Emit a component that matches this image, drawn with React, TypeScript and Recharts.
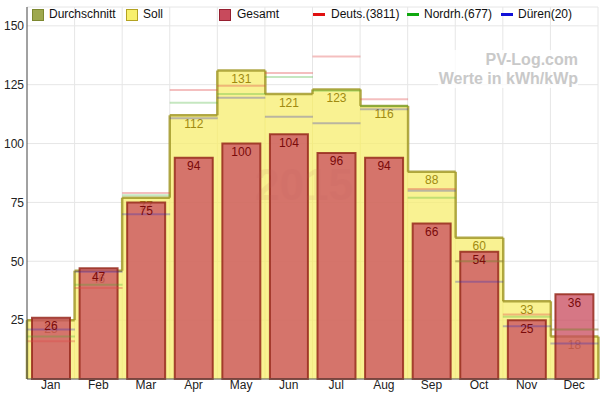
import { ComposedChart, Bar, XAxis, YAxis, CartesianGrid, LabelList } from 'recharts'

const months = ['Jan', 'Feb', 'Mar', 'Apr', 'May', 'Jun', 'Jul', 'Aug', 'Sep', 'Oct', 'Nov', 'Dec']
const gesamt = [26, 47, 75, 94, 100, 104, 96, 94, 66, 54, 25, 36]
const soll = [25, 46, 77, 112, 131, 121, 123, 116, 88, 60, 33, 18]
const durchschnitt: (number | null)[] = [null, null, null, null, null, null, null, null, null, null, null, null]
const deuts = [16, 38.7, 79, 122.8, 124.5, 130, 137, 118.8, 80.7, 50, 27.4, 21]
const nordrh = [18, 40, 78, 117.3, 121, 128.3, 122.4, 116, 77, 50, 26.4, 21]
const dueren = [21, 45.5, 70, 110.8, 119.5, 111.4, 108.6, 114.6, 80, 41.3, 22.4, 15.1]
const yTicks = [25, 50, 75, 100, 125, 150]

const data = months.map((m, i) => ({
  month: m,
  gesamt: gesamt[i],
  soll: soll[i],
  durchschnitt: durchschnitt[i],
  deuts: deuts[i],
  nordrh: nordrh[i],
  dueren: dueren[i],
}))

const FONT = '"Liberation Sans", Arial, sans-serif'
const SOLL_STROKE = '#a39a2a'

// horizontal segment across the whole month, at the bar's value
const segment = (color: string, w: number, op: number) => (props: any) => {
  const { x, y, width } = props
  if (!Number.isFinite(y) || !Number.isFinite(x)) return <g />
  return <line x1={x} x2={x + width} y1={y} y2={y} stroke={color} strokeWidth={w} strokeOpacity={op} />
}

// Soll drawn as a step area: fill, top edge, and the riser up from the lower neighbour
const sollStep = (props: any) => {
  const { x, y, width, height, index } = props
  if (!Number.isFinite(y)) return <g />
  const base = y + height
  const unit = height / soll[index]
  const prev = index > 0 ? soll[index - 1] : 0
  const next = index < soll.length - 1 ? soll[index + 1] : 0
  const yPrev = base - prev * unit
  const yNext = base - next * unit
  return (
    <g>
      <rect x={x} y={y} width={width} height={height} fill="#f7ee6e" fillOpacity={0.75} />
      <line x1={x} x2={x + width} y1={y} y2={y} stroke={SOLL_STROKE} strokeOpacity={0.85} strokeWidth={2.5} />
      {yPrev > y && <line x1={x} x2={x} y1={y} y2={yPrev} stroke={SOLL_STROKE} strokeOpacity={0.85} strokeWidth={2.5} />}
      {yNext > y && <line x1={x + width} x2={x + width} y1={y} y2={yNext} stroke={SOLL_STROKE} strokeOpacity={0.85} strokeWidth={2.5} />}
    </g>
  )
}

const legendBoxes = [
  { label: 'Durchschnitt', fill: '#9ea84e', border: '#7d8830', x: 32, tx: 49 },
  { label: 'Soll', fill: '#f8f06c', border: '#b3a222', x: 126, tx: 143 },
  { label: 'Gesamt', fill: '#c84a5c', border: '#961f30', x: 219, tx: 237 },
]
const legendLines = [
  { label: 'Deuts.(3811)', color: '#e01010', x: 313, tx: 331 },
  { label: 'Nordrh.(677)', color: '#10a810', x: 407, tx: 424 },
  { label: 'Düren(20)', color: '#1010d8', x: 501, tx: 518 },
]

export default function App() {
  return (
    <div style={{ position: 'fixed', left: 0, top: 0, width: 612, height: 396, background: '#fff', fontFamily: FONT }}>
      <ComposedChart
        width={612}
        height={396}
        data={data}
        margin={{ top: 7, right: 14, bottom: 0, left: 0 }}
        barCategoryGap={0}
        barGap={0}
      >
        <CartesianGrid
          xAxisId="main"
          stroke="#e6e6e6"
          verticalCoordinatesGenerator={({ offset }: any) =>
            months.map((_, i) => offset.left + ((i + 1) * offset.width) / 12)
          }
        />
        <XAxis
          xAxisId="main"
          dataKey="month"
          height={17}
          tickSize={0}
          tickMargin={1}
          interval={0}
          axisLine={{ stroke: '#555' }}
          tick={{ fontSize: 12, fill: '#222', fontFamily: FONT }}
        />
        <XAxis xAxisId="soll" dataKey="month" orientation="top" height={0} hide />
        <XAxis xAxisId="durch" dataKey="month" orientation="top" height={0} hide />
        <XAxis xAxisId="deuts" dataKey="month" orientation="top" height={0} hide />
        <XAxis xAxisId="nordrh" dataKey="month" orientation="top" height={0} hide />
        <XAxis xAxisId="dueren" dataKey="month" orientation="top" height={0} hide />
        <YAxis
          width={27}
          domain={[0, 158]}
          ticks={yTicks}
          tickSize={0}
          tickMargin={3}
          axisLine={{ stroke: '#444' }}
          tick={{ fontSize: 12, fill: '#222', fontFamily: FONT }}
        />

        <Bar xAxisId="soll" dataKey="soll" fill="#f7ee6e" shape={sollStep} isAnimationActive={false} zIndex={300}>
          <LabelList dataKey="soll" position="insideTop" offset={4} fill="#a08a10" fontSize={12} fontFamily={FONT} zIndex={301} />
        </Bar>
        <Bar xAxisId="main" dataKey="gesamt" barSize={38} fill="#c94c5e" fillOpacity={0.76} stroke="#962a1c" strokeOpacity={0.85} strokeWidth={2} isAnimationActive={false} zIndex={302}>
          <LabelList dataKey="gesamt" position="insideTop" offset={4} fill="#7a0a0a" fontSize={12} fontFamily={FONT} />
        </Bar>
        <Bar xAxisId="durch" dataKey="durchschnitt" fill="#7d8830" shape={segment('#6e7530', 2.5, 0.5)} isAnimationActive={false} zIndex={303} />
        <Bar xAxisId="deuts" dataKey="deuts" fill="#e04040" shape={segment('#e04848', 2, 0.35)} isAnimationActive={false} zIndex={303} />
        <Bar xAxisId="nordrh" dataKey="nordrh" fill="#40b040" shape={segment('#40b030', 2, 0.3)} isAnimationActive={false} zIndex={303} />
        <Bar xAxisId="dueren" dataKey="dueren" fill="#3030c0" shape={segment('#2828c0', 2, 0.3)} isAnimationActive={false} zIndex={303} />
      </ComposedChart>

      <div style={{ position: 'absolute', left: 255, top: 160, fontSize: 44, fontWeight: 'bold', color: '#c06060', opacity: 0.1, pointerEvents: 'none' }}>2015</div>

      <div style={{ position: 'absolute', right: 34, top: 50, width: 140, textAlign: 'right', background: 'rgba(255,255,255,0.8)', color: '#c9c9c9', fontSize: 16, fontWeight: 'bold', lineHeight: '19px' }}>
        <div>PV-Log.com</div>
        <div>Werte in kWh/kWp</div>
      </div>

      {legendBoxes.map(b => (
        <div key={b.label}>
          <div style={{ position: 'absolute', left: b.x, top: 9, width: 10, height: 10, background: b.fill, border: `1px solid ${b.border}` }} />
          <div style={{ position: 'absolute', left: b.tx, top: 7, fontSize: 12, color: '#111', lineHeight: '15px' }}>{b.label}</div>
        </div>
      ))}
      {legendLines.map(l => (
        <div key={l.label}>
          <div style={{ position: 'absolute', left: l.x, top: 13, width: 12, height: 3, background: l.color }} />
          <div style={{ position: 'absolute', left: l.tx, top: 7, fontSize: 12, color: '#111', lineHeight: '15px' }}>{l.label}</div>
        </div>
      ))}
    </div>
  )
}
